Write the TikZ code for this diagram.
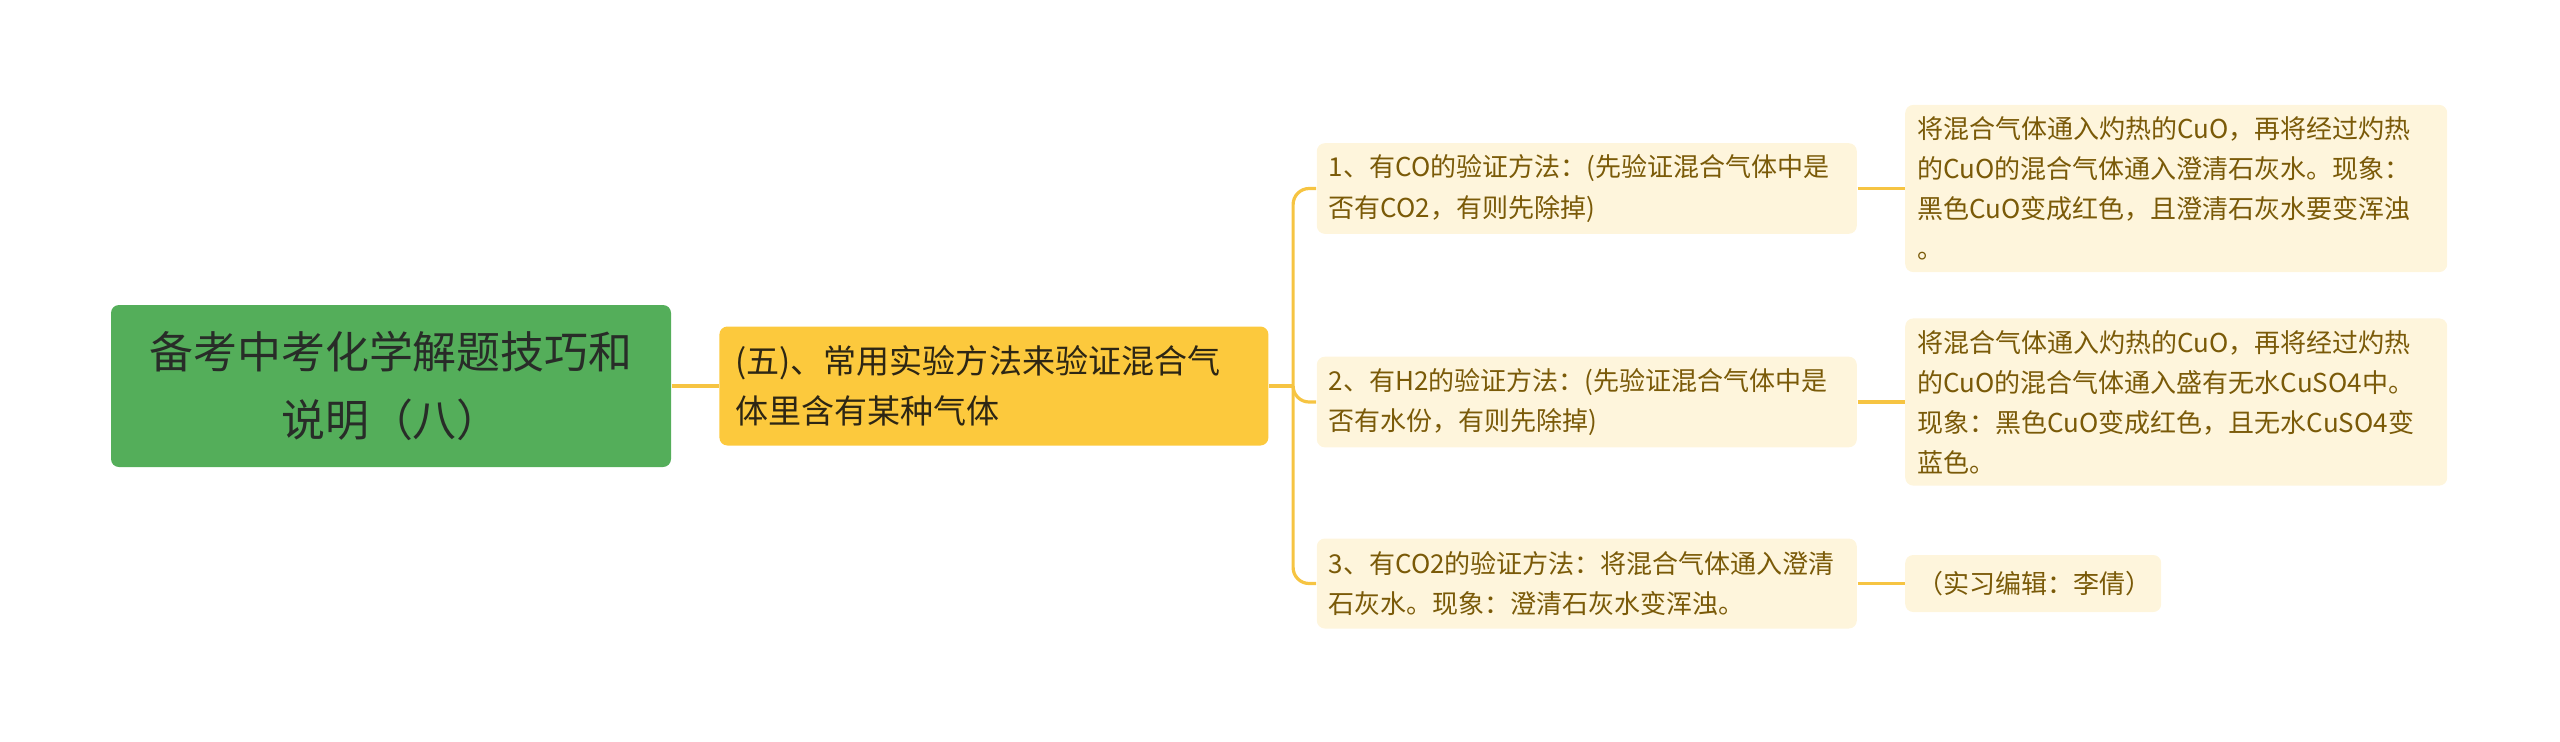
\documentclass[tikz,border=0pt]{standalone}
\usepackage{fontspec}
\setmainfont{Noto Sans CJK SC}
\usetikzlibrary{positioning}
\definecolor{rootfill}{RGB}{84,174,90}
\definecolor{roottext}{RGB}{40,44,40}
\definecolor{topicfill}{RGB}{252,201,61}
\definecolor{topictext}{RGB}{45,38,20}
\definecolor{leaffill}{RGB}{254,245,220}
\definecolor{leaftext}{RGB}{122,90,8}
\definecolor{linkcol}{RGB}{246,196,66}
\tikzset{
    node distance=0.47cm,
    every node/.style={rounded corners=0.08cm},
    root/.style={
        fill=rootfill, text=roottext,
        minimum width=5.6cm, minimum height=1.62cm,
        align=center, font=\fontsize{12.5}{19.6}\selectfont
    },
    topic/.style={
        fill=topicfill, text=topictext,
        text width=5.17cm, inner xsep=0.16cm, minimum height=1.19cm,
        align=left, font=\fontsize{9.4}{14.2}\selectfont
    },
    leaf/.style={
        fill=leaffill, text=leaftext,
        text width=5.16cm, inner xsep=0.12cm,
        align=left, font=\fontsize{7.4}{11.4}\selectfont
    },
    link/.style={draw=linkcol, line width=0.032cm, rounded corners=0.16cm},
}

\begin{document}
\begin{tikzpicture}
    \useasboundingbox (0,0) rectangle (25.6,-7.41);

    \node[root]  (root) at (3.91,-3.86) {备考中考化学解题技巧和\\说明（八）};
    \node[topic] (topic) [right=of root] {(五)、常用实验方法来验证混合气\\体里含有某种气体};
    \path (topic.east) ++(0.24,0) coordinate (fork);

    % methods
    \node[leaf, minimum height=0.9cm] (m1) [right=of topic, yshift=1.975cm]
        {1、有CO的验证方法：(先验证混合气体中是\\否有CO2，有则先除掉)};
    \node[leaf, minimum height=0.9cm] (m2) [right=of topic, yshift=-0.16cm]
        {2、有H2的验证方法：(先验证混合气体中是\\否有水份，有则先除掉)};
    \node[leaf, minimum height=0.9cm] (m3) [right=of topic, yshift=-1.975cm]
        {3、有CO2的验证方法：将混合气体通入澄清\\石灰水。现象：澄清石灰水变浑浊。};

    % details
    \node[leaf, text width=5.18cm, minimum height=1.55cm] (d1) [right=of m1]
        {将混合气体通入灼热的CuO，再将经过灼热\\的CuO的混合气体通入澄清石灰水。现象：\\黑色CuO变成红色，且澄清石灰水要变浑浊\\。};
    \node[leaf, text width=5.18cm, minimum height=1.57cm] (d2) [right=of m2]
        {将混合气体通入灼热的CuO，再将经过灼热\\的CuO的混合气体通入盛有无水CuSO4中。\\现象：黑色CuO变成红色，且无水CuSO4变\\蓝色。};
    \node[leaf, text width=2.32cm, minimum height=0.57cm] (d3) [right=of m3]
        {（实习编辑：李倩）};

    \draw[link] (root) -- (topic);
    \draw[link] (topic.east) -- (fork);
    \draw[link] (fork) |- (m1.west);
    \draw[link] (fork) |- (m2.west);
    \draw[link] (fork) |- (m3.west);
    \draw[link] (m1) -- (d1);
    \draw[link] (m2) -- (d2);
    \draw[link] (m3) -- (d3);
\end{tikzpicture}
\end{document}
